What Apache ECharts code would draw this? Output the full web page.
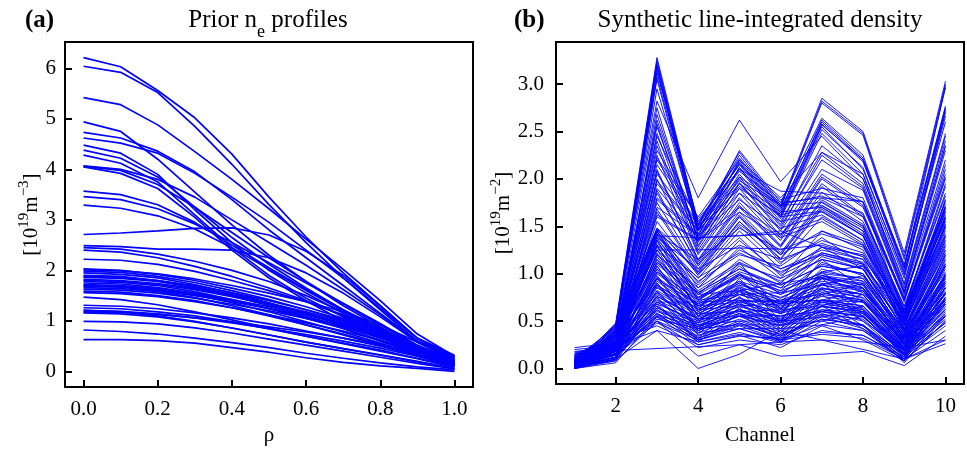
<!DOCTYPE html>
<html><head><meta charset="utf-8">
<script src="https://cdn.jsdelivr.net/npm/echarts@6/dist/echarts.min.js"></script>
<style>html,body{margin:0;padding:0;background:#fff}#c{width:967px;height:451px}</style>
</head><body><div id="c"></div>
<script>
// ---- data ----
const rhoGrid = [0, 0.1, 0.2, 0.3, 0.4, 0.5, 0.6, 0.7, 0.8, 0.9, 1.0];
const channels = [1, 2, 3, 4, 5, 6, 7, 8, 9, 10];

const priorNe = [
[6.21,6.03,5.56,5.02,4.30,3.45,2.66,1.95,1.30,0.66,0.32],
[6.04,5.92,5.52,4.85,4.10,3.30,2.55,1.85,1.22,0.60,0.28],
[5.42,5.28,4.88,4.35,3.80,3.22,2.62,2.02,1.40,0.74,0.30],
[4.94,4.75,4.20,3.55,2.90,2.30,1.78,1.30,0.88,0.48,0.20],
[4.73,4.62,4.36,3.95,3.40,2.80,2.25,1.70,1.15,0.60,0.26],
[4.62,4.52,4.32,3.92,3.45,2.95,2.40,1.85,1.25,0.65,0.30],
[4.48,4.32,3.90,3.20,2.55,2.00,1.55,1.15,0.80,0.45,0.18],
[4.38,4.22,3.85,3.25,2.65,2.12,1.65,1.22,0.85,0.48,0.20],
[4.28,4.12,3.75,3.10,2.45,1.90,1.45,1.08,0.75,0.42,0.16],
[4.07,4.00,3.80,3.45,3.00,2.55,2.10,1.62,1.12,0.58,0.24],
[4.05,3.92,3.62,3.05,2.40,1.85,1.40,1.00,0.68,0.38,0.14],
[4.06,3.98,3.70,3.25,2.75,2.25,1.78,1.34,0.92,0.50,0.20],
[3.57,3.50,3.30,2.95,2.50,2.05,1.62,1.22,0.85,0.48,0.20],
[3.46,3.40,3.22,2.92,2.55,2.15,1.75,1.35,0.95,0.52,0.22],
[3.29,3.23,3.08,2.82,2.45,2.02,1.60,1.20,0.82,0.45,0.18],
[2.71,2.74,2.78,2.83,2.84,2.70,2.38,1.90,1.30,0.65,0.25],
[2.49,2.47,2.42,2.42,2.40,2.25,1.95,1.55,1.08,0.58,0.22],
[2.45,2.42,2.32,2.18,2.00,1.78,1.50,1.18,0.82,0.45,0.18],
[2.40,2.36,2.25,2.08,1.88,1.65,1.40,1.10,0.78,0.42,0.16],
[2.22,2.20,2.12,1.98,1.80,1.60,1.38,1.12,0.80,0.44,0.18],
[2.03,2.00,1.92,1.80,1.65,1.48,1.28,1.05,0.78,0.45,0.18],
[2.01,1.99,1.93,1.83,1.70,1.55,1.38,1.18,0.92,0.58,0.28],
[1.98,1.96,1.88,1.76,1.60,1.42,1.22,1.00,0.74,0.42,0.16],
[1.95,1.92,1.85,1.72,1.55,1.36,1.15,0.92,0.68,0.40,0.15],
[1.90,1.88,1.80,1.68,1.52,1.35,1.18,0.98,0.75,0.46,0.20],
[1.88,1.86,1.80,1.70,1.56,1.40,1.22,1.02,0.78,0.50,0.24],
[1.86,1.84,1.78,1.66,1.50,1.30,1.08,0.85,0.60,0.34,0.12],
[1.82,1.80,1.74,1.64,1.50,1.34,1.15,0.95,0.72,0.44,0.18],
[1.80,1.78,1.72,1.62,1.48,1.32,1.14,0.94,0.70,0.42,0.16],
[1.78,1.76,1.70,1.58,1.42,1.24,1.05,0.85,0.62,0.36,0.14],
[1.75,1.73,1.66,1.55,1.42,1.28,1.12,0.93,0.72,0.45,0.20],
[1.72,1.70,1.64,1.52,1.36,1.18,0.98,0.78,0.56,0.32,0.12],
[1.70,1.68,1.62,1.53,1.40,1.25,1.08,0.88,0.66,0.40,0.16],
[1.69,1.67,1.60,1.50,1.38,1.24,1.08,0.90,0.68,0.42,0.18],
[1.66,1.64,1.58,1.46,1.30,1.12,0.92,0.72,0.52,0.30,0.10],
[1.63,1.61,1.55,1.45,1.33,1.20,1.05,0.88,0.68,0.44,0.20],
[1.59,1.57,1.50,1.40,1.26,1.10,0.92,0.74,0.54,0.32,0.12],
[1.56,1.54,1.48,1.38,1.26,1.12,0.96,0.80,0.62,0.40,0.18],
[1.47,1.42,1.32,1.18,1.02,0.86,0.70,0.55,0.40,0.25,0.08],
[1.31,1.29,1.24,1.16,1.06,0.94,0.80,0.66,0.50,0.32,0.14],
[1.26,1.24,1.18,1.10,0.98,0.84,0.70,0.56,0.42,0.26,0.10],
[1.21,1.19,1.14,1.06,0.96,0.85,0.73,0.60,0.46,0.30,0.12],
[1.21,1.18,1.10,0.99,0.86,0.72,0.58,0.45,0.32,0.19,0.05],
[1.18,1.17,1.13,1.06,0.98,0.88,0.78,0.66,0.52,0.36,0.18],
[1.16,1.14,1.08,0.98,0.86,0.72,0.58,0.45,0.33,0.20,0.06],
[0.99,0.98,0.94,0.86,0.76,0.64,0.52,0.40,0.28,0.16,0.05],
[0.82,0.79,0.74,0.66,0.57,0.47,0.36,0.26,0.17,0.09,0.03],
[0.63,0.63,0.61,0.56,0.47,0.38,0.27,0.18,0.11,0.06,0.00]
];

const lineIntegrated = [
[0.02,0.48,3.28,1.52,2.28,1.72,2.85,2.50,1.22,3.03],
[0.01,0.46,3.25,1.50,2.25,1.70,2.82,2.48,1.18,3.00],
[0.02,0.45,3.20,1.52,2.22,1.70,2.80,2.46,1.15,2.96],
[0.03,0.44,3.22,1.45,2.30,1.75,2.64,2.25,1.05,2.98],
[0.00,0.42,3.18,1.40,2.20,1.68,2.60,2.20,1.10,2.77],
[0.04,0.43,3.15,1.47,2.17,1.64,2.58,2.18,1.06,2.74],
[0.04,0.40,3.12,1.55,2.15,1.62,2.55,2.10,1.00,2.72],
[0.02,0.38,3.08,1.48,2.10,1.58,2.48,2.05,0.95,2.70],
[0.01,0.41,3.05,1.42,2.12,1.60,2.52,2.12,0.98,2.66],
[0.03,0.40,2.95,1.45,2.18,1.66,2.62,2.22,1.08,2.75],
[0.05,0.47,2.82,1.80,2.62,1.97,2.45,2.00,0.90,2.48],
[0.03,0.39,2.75,1.33,2.02,1.52,2.35,2.00,0.88,2.45],
[0.01,0.24,2.68,1.35,2.12,1.60,2.57,2.20,1.02,2.60],
[0.01,0.35,2.62,1.38,2.05,1.55,2.28,1.95,0.85,2.40],
[0.02,0.37,2.58,1.28,1.96,1.47,2.25,1.92,0.82,2.35],
[0.03,0.33,2.55,1.36,2.00,1.50,2.20,1.90,0.80,2.30],
[0.00,0.30,2.48,1.30,1.95,1.45,2.10,1.88,0.78,2.20],
[0.05,0.35,2.45,1.55,2.15,1.78,1.90,1.80,0.72,2.15],
[0.02,0.34,2.40,1.25,1.90,1.40,2.05,1.75,0.70,2.10],
[0.00,0.31,2.35,1.22,1.85,1.38,2.02,1.72,0.74,2.05],
[0.06,0.36,2.30,1.58,2.10,1.87,1.85,1.76,0.75,2.02],
[0.01,0.28,2.25,1.20,1.80,1.35,2.00,1.70,0.72,2.00],
[0.02,0.40,2.22,1.60,2.20,1.80,2.28,2.05,0.80,2.35],
[0.03,0.30,2.20,1.52,2.08,1.75,1.80,1.60,0.60,1.92],
[0.03,0.33,2.15,1.50,2.02,1.73,1.82,1.64,0.62,1.95],
[0.02,0.26,2.10,1.15,1.75,1.30,1.95,1.62,0.65,1.85],
[0.01,0.27,2.08,1.14,1.72,1.29,1.92,1.60,0.66,1.82],
[0.04,0.32,2.05,1.48,1.98,1.72,1.75,1.50,0.55,1.78],
[0.00,0.24,2.00,1.12,1.70,1.28,1.86,1.55,0.62,1.75],
[0.04,0.29,1.98,1.46,1.90,1.62,1.72,1.48,0.52,1.70],
[0.02,0.28,1.95,1.45,1.95,1.65,1.70,1.45,0.50,1.65],
[0.05,0.30,1.90,1.38,1.40,1.42,1.80,1.76,0.58,1.55],
[0.02,0.23,1.88,1.08,1.62,1.20,1.76,1.50,0.58,1.66],
[0.01,0.22,1.85,1.10,1.65,1.22,1.78,1.52,0.60,1.70],
[0.03,0.27,1.80,1.42,1.92,1.60,1.66,1.40,0.45,1.48],
[0.03,0.26,1.78,1.40,1.85,1.55,1.65,1.40,0.46,1.52],
[0.02,0.25,1.75,1.05,1.60,1.20,1.72,1.45,0.55,1.60],
[0.04,0.29,1.70,1.40,1.78,1.48,1.62,1.35,0.42,1.40],
[0.01,0.21,1.68,1.02,1.55,1.16,1.70,1.42,0.54,1.58],
[0.00,0.20,1.65,1.00,1.55,1.15,1.68,1.40,0.52,1.52],
[0.04,0.28,1.62,1.36,1.70,1.42,1.58,1.32,0.42,1.38],
[0.03,0.26,1.60,1.35,1.65,1.38,1.55,1.30,0.40,1.35],
[0.02,0.22,1.55,0.98,1.50,1.10,1.60,1.35,0.50,1.42],
[0.06,0.38,1.40,1.38,1.40,1.45,1.28,1.20,0.55,1.62],
[0.04,0.30,1.25,1.25,1.27,1.26,1.30,1.18,0.50,1.40],
[0.08,0.42,1.48,1.10,1.52,1.20,1.45,1.30,0.60,1.70],
[0.03,0.36,1.46,1.02,1.60,1.12,1.35,1.22,0.48,1.78],
[0.10,0.44,1.40,0.95,1.45,1.05,1.25,1.15,0.62,1.55],
[0.02,0.40,1.44,0.90,1.35,1.00,1.28,1.05,0.45,1.60],
[0.05,0.34,1.36,0.92,1.20,1.08,1.38,1.10,0.52,1.50],
[0.07,0.46,1.47,1.00,1.38,0.98,1.20,1.08,0.58,1.68],
[0.06,0.38,1.42,1.15,1.48,1.25,1.42,1.28,0.58,1.72],
[0.03,0.34,1.38,1.05,1.30,1.15,1.32,1.18,0.50,1.58],
[0.09,0.30,1.30,0.96,1.22,1.02,1.22,1.12,0.46,1.45],
[0.02,0.26,1.20,0.85,1.12,0.92,1.15,1.05,0.42,1.32],
[0.07,0.28,1.12,0.80,1.05,0.88,1.08,1.00,0.38,1.25],
[0.04,0.22,1.02,0.72,0.98,0.80,1.02,0.95,0.35,1.15],
[0.11,0.30,0.94,0.68,0.90,0.74,0.96,0.90,0.32,1.08],
[0.01,0.18,0.88,0.62,0.84,0.68,0.90,0.84,0.28,0.98],
[0.08,0.26,0.82,0.58,0.78,0.64,0.84,0.78,0.26,0.92],
[0.03,0.16,0.76,0.52,0.72,0.58,0.78,0.72,0.22,0.86],
[0.10,0.24,0.70,0.48,0.66,0.54,0.72,0.66,0.20,0.80],
[0.02,0.12,0.64,0.44,0.62,0.50,0.66,0.60,0.18,0.74],
[0.06,0.20,0.58,0.40,0.56,0.46,0.60,0.56,0.15,0.68],
[0.05,0.30,1.48,0.85,1.28,0.95,1.45,1.25,0.45,1.50],
[0.10,0.35,1.45,0.80,1.05,0.85,1.22,1.10,0.40,1.30],
[0.03,0.28,1.42,0.78,1.15,0.90,1.28,1.15,0.38,1.25],
[0.07,0.26,1.38,0.75,1.00,0.82,1.18,1.05,0.35,1.20],
[0.00,0.18,1.35,0.72,1.08,0.78,1.10,1.00,0.32,1.15],
[0.12,0.32,1.32,0.88,1.25,1.05,1.20,1.10,0.48,1.35],
[0.04,0.24,1.30,0.62,1.12,0.58,1.02,1.08,0.30,1.10],
[0.02,0.22,1.28,0.78,0.82,0.90,0.96,0.80,0.34,0.90],
[0.08,0.30,1.25,0.82,1.10,0.95,1.15,1.05,0.42,1.22],
[0.01,0.20,1.22,0.55,1.00,0.62,1.15,0.85,0.27,1.20],
[0.06,0.25,1.20,0.78,1.02,0.88,1.08,1.00,0.38,1.12],
[0.00,0.15,1.18,0.64,0.90,0.68,0.98,0.88,0.25,0.98],
[0.09,0.28,1.15,0.75,0.98,0.85,1.00,0.95,0.36,1.08],
[0.03,0.18,1.12,0.72,0.78,0.80,0.88,0.98,0.30,0.85],
[0.14,0.33,1.10,0.74,0.96,0.82,0.98,0.92,0.40,1.02],
[0.02,0.16,1.08,0.48,0.95,0.50,1.02,0.70,0.22,1.08],
[0.05,0.22,1.05,0.70,0.92,0.78,0.95,0.88,0.33,0.98],
[0.00,0.12,1.02,0.66,0.70,0.72,0.78,0.90,0.26,0.78],
[0.07,0.26,1.00,0.68,0.88,0.75,0.92,0.85,0.30,0.95],
[0.01,0.14,0.98,0.42,0.88,0.45,0.95,0.62,0.19,1.00],
[0.11,0.30,0.96,0.66,0.86,0.72,0.88,0.82,0.32,0.92],
[0.03,0.18,0.95,0.62,0.66,0.68,0.72,0.82,0.24,0.72],
[0.06,0.20,0.92,0.62,0.82,0.70,0.85,0.78,0.28,0.88],
[0.00,0.10,0.90,0.40,0.82,0.42,0.90,0.58,0.16,0.95],
[0.08,0.24,0.88,0.60,0.80,0.68,0.82,0.75,0.26,0.85],
[0.02,0.12,0.86,0.58,0.60,0.62,0.66,0.78,0.22,0.68],
[0.13,0.28,0.85,0.58,0.78,0.66,0.80,0.72,0.30,0.82],
[0.04,0.15,0.82,0.36,0.76,0.38,0.84,0.55,0.14,0.90],
[0.05,0.18,0.80,0.56,0.74,0.63,0.76,0.70,0.25,0.80],
[0.01,0.10,0.78,0.52,0.55,0.56,0.60,0.72,0.20,0.62],
[0.09,0.22,0.76,0.54,0.70,0.60,0.72,0.66,0.24,0.78],
[0.03,0.14,0.74,0.32,0.70,0.34,0.78,0.50,0.12,0.85],
[0.06,0.20,0.72,0.52,0.68,0.58,0.70,0.64,0.22,0.75],
[0.00,0.08,0.70,0.46,0.50,0.50,0.54,0.66,0.18,0.56],
[0.10,0.25,0.70,0.70,0.72,0.70,0.72,0.70,0.30,0.72],
[0.04,0.16,0.68,0.50,0.65,0.55,0.68,0.62,0.20,0.72],
[0.02,0.12,0.66,0.30,0.64,0.30,0.72,0.45,0.10,0.80],
[0.07,0.18,0.64,0.48,0.62,0.52,0.65,0.60,0.19,0.70],
[0.01,0.09,0.62,0.42,0.46,0.46,0.50,0.60,0.16,0.52],
[0.12,0.26,0.60,0.46,0.60,0.50,0.62,0.58,0.18,0.66],
[0.03,0.11,0.58,0.28,0.58,0.28,0.66,0.42,0.08,0.74],
[0.05,0.15,0.56,0.44,0.58,0.48,0.60,0.55,0.16,0.64],
[0.00,0.06,0.55,0.38,0.42,0.42,0.46,0.55,0.14,0.48],
[0.08,0.20,0.52,0.42,0.55,0.45,0.57,0.52,0.15,0.62],
[0.02,0.08,0.50,0.32,0.48,0.34,0.52,0.45,0.06,0.55],
[0.15,0.26,0.62,0.30,0.42,0.28,0.55,0.42,0.14,0.48],
[0.18,0.22,0.50,0.22,0.30,0.25,0.40,0.35,0.10,0.40],
[0.10,0.30,0.75,0.35,0.48,0.32,0.60,0.50,0.20,0.68],
[0.22,0.27,0.68,0.30,0.45,0.30,0.58,0.45,0.15,0.55],
[0.06,0.35,0.88,0.40,0.55,0.38,0.66,0.58,0.22,0.75],
[0.12,0.28,0.95,0.45,0.62,0.42,0.72,0.62,0.25,0.85],
[0.04,0.20,1.05,0.50,0.68,0.48,0.80,0.70,0.28,0.92],
[0.09,0.32,1.15,0.55,0.75,0.52,0.88,0.78,0.30,1.00],
[0.14,0.36,1.25,0.62,0.85,0.60,0.98,0.85,0.34,1.10],
[0.02,0.24,1.35,0.66,0.92,0.64,1.05,0.92,0.36,1.18],
[0.08,0.40,1.45,0.72,1.00,0.70,1.12,0.98,0.40,1.28],
[0.16,0.28,1.08,0.52,0.72,0.50,0.85,0.74,0.26,0.96],
[0.05,0.36,1.30,0.60,0.82,0.58,0.95,0.82,0.32,1.05],
[0.13,0.32,0.90,0.42,0.58,0.40,0.70,0.60,0.22,0.80],
[0.07,0.25,0.80,0.38,0.52,0.36,0.62,0.54,0.18,0.70],
[0.20,0.24,0.66,0.32,0.46,0.34,0.56,0.46,0.14,0.58],
[0.04,0.14,0.48,0.30,0.42,0.30,0.46,0.40,0.08,0.50],
[0.09,0.18,0.54,0.34,0.50,0.36,0.52,0.46,0.10,0.56],
[0.05,0.30,0.45,0.25,0.34,0.32,0.38,0.35,0.12,0.45],
[0.17,0.24,0.40,0.28,0.36,0.30,0.36,0.32,0.10,0.30],
[0.08,0.19,0.21,0.23,0.25,0.28,0.30,0.28,0.22,0.30],
[0.02,0.10,0.40,0.00,0.15,0.40,0.30,0.20,0.10,0.26],
[0.12,0.15,0.50,0.13,0.25,0.13,0.15,0.18,0.03,0.34],
[0.05,0.20,0.55,0.25,0.35,0.22,0.45,0.30,0.08,0.50],
[0.15,0.22,0.58,0.28,0.38,0.27,0.50,0.40,0.12,0.60]
];

const rhoTicks = [0, 0.2, 0.4, 0.6, 0.8, 1.0];
const neTicks = [0, 1, 2, 3, 4, 5, 6];
const channelTicks = [2, 4, 6, 8, 10];
const lidTicks = [0, 0.5, 1.0, 1.5, 2.0, 2.5, 3.0];

// ---- layout helpers ----
const FONT = 'Liberation Serif';
function padRange(vals) {
  const mn = Math.min(...vals), mx = Math.max(...vals), m = (mx - mn) * 0.05;
  return [mn - m, mx + m];
}
const leftX = padRange(rhoGrid);
const leftY = padRange(priorNe.flat());
const rightX = padRange(channels);
const rightY = padRange(lineIntegrated.flat());

function makeAxis(gridIndex, range, ticks, fmt, labelMargin) {
  return {
    type: 'value', gridIndex, min: range[0], max: range[1], scale: true,
    axisLine: { show: true, onZero: false, lineStyle: { color: '#000', width: 2 } },
    axisTick: { show: true, inside: true, length: 7, lineStyle: { color: '#000', width: 2 }, customValues: ticks },
    axisLabel: { show: true, color: '#000', fontFamily: FONT, fontSize: 21, margin: labelMargin, customValues: ticks, formatter: fmt },
    splitLine: { show: false },
    nameTextStyle: { color: '#000', fontFamily: FONT, fontSize: 21 }
  };
}
const f1 = v => Number(v).toFixed(1);
const f0 = v => String(Math.round(v));

const yNameRich = {
  b: { fontFamily: FONT, fontSize: 21, color: '#000', lineHeight: 24, padding: [4, 0, 0, 0], verticalAlign: 'top' },
  p: { fontFamily: FONT, fontSize: 15, color: '#000', lineHeight: 15, verticalAlign: 'top' }
};

const xAxes = [
  Object.assign(makeAxis(0, leftX, rhoTicks, f1, 12), { name: 'ρ', nameLocation: 'middle', nameGap: 37 }),
  Object.assign(makeAxis(1, rightX, channelTicks, f0, 12), { name: 'Channel', nameLocation: 'middle', nameGap: 41 })
];
const yAxes = [
  Object.assign(makeAxis(0, leftY, neTicks, f0, 9), {
    name: '{b|[10}{p|19}{b|m}{p|−3}{b|]}', nameLocation: 'middle', nameRotate: 90, nameGap: 21,
    nameTextStyle: { rich: yNameRich }
  }),
  Object.assign(makeAxis(1, rightY, lidTicks, f1, 12), {
    name: '{b|[10}{p|19}{b|m}{p|−2}{b|]}', nameLocation: 'middle', nameRotate: 90, nameGap: 38,
    nameTextStyle: { rich: yNameRich }
  })
];

const series = [];
priorNe.forEach((row, k) => series.push({
  type: 'line', xAxisIndex: 0, yAxisIndex: 0, name: 'p' + k,
  data: row.map((v, i) => [rhoGrid[i], v]),
  symbol: 'none', silent: true, lineStyle: { color: '#0000ff', width: 1.7 }
}));
lineIntegrated.forEach((row, k) => series.push({
  type: 'line', xAxisIndex: 1, yAxisIndex: 1, name: 'l' + k,
  data: row.map((v, i) => [channels[i], v]),
  symbol: 'none', silent: true, lineStyle: { color: '#0000ff', width: 0.9 }
}));

const titleRich = {
  a: { fontFamily: FONT, fontSize: 25, fontWeight: 'normal', color: '#000', lineHeight: 28, verticalAlign: 'top' },
  s: { fontFamily: FONT, fontSize: 18, fontWeight: 'normal', color: '#000', lineHeight: 18, padding: [15, 0, 0, 0], verticalAlign: 'top' }
};

const chart = echarts.init(document.getElementById('c'), null, { renderer: 'canvas' });
chart.setOption({
  animation: false,
  backgroundColor: '#fff',
  title: [
    { text: '{a|Prior n}{s|e}{a| profiles}', left: 263, top: 3, textAlign: 'center', textStyle: { fontWeight: 'normal', rich: titleRich } },
    { text: 'Synthetic line-integrated density', left: 755, top: 3, textAlign: 'center', textStyle: { fontFamily: FONT, fontSize: 25, fontWeight: 'normal', color: '#000' } },
    { text: '(a)', left: 20, top: 3, textStyle: { fontFamily: FONT, fontSize: 25, fontWeight: 'bold', color: '#000' } },
    { text: '(b)', left: 509, top: 3, textStyle: { fontFamily: FONT, fontSize: 25, fontWeight: 'bold', color: '#000' } }
  ],
  grid: [
    { left: 65, top: 42, width: 408, height: 354, show: true, borderColor: '#000', borderWidth: 2, backgroundColor: 'transparent', containLabel: false },
    { left: 556, top: 42, width: 408, height: 354, show: true, borderColor: '#000', borderWidth: 2, backgroundColor: 'transparent', containLabel: false }
  ],
  xAxis: xAxes,
  yAxis: yAxes,
  series
});
</script>
</body></html>
